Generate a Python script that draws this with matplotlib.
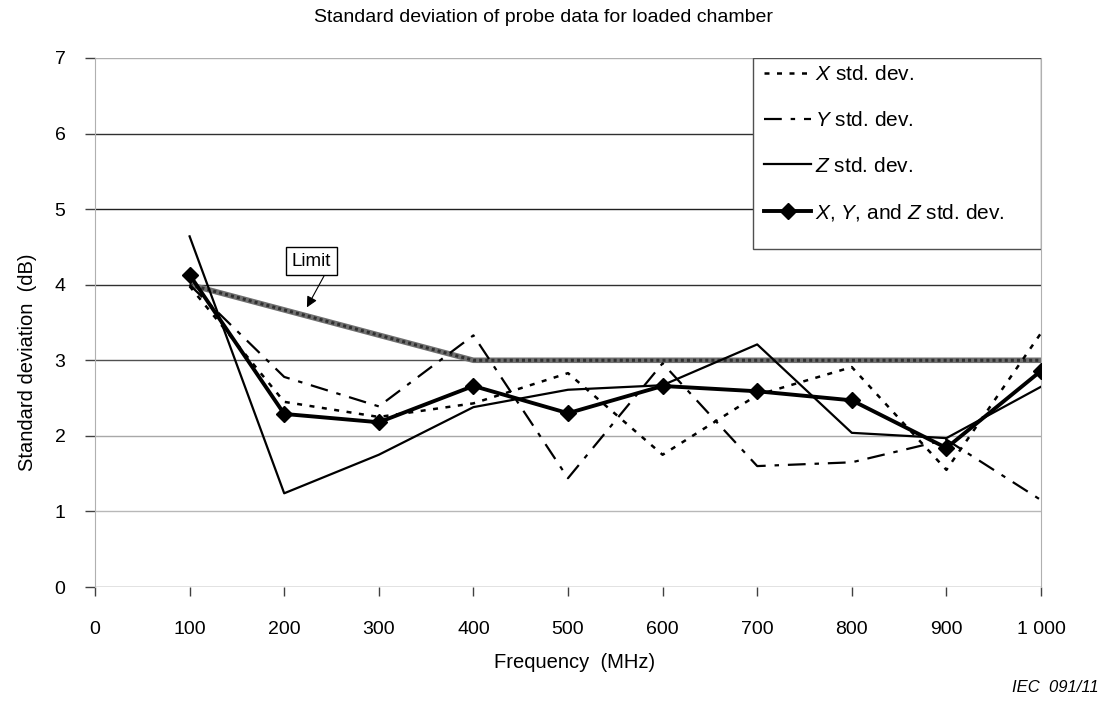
import matplotlib
matplotlib.use("Agg")
import matplotlib.pyplot as plt
from matplotlib.patches import Rectangle

plt.rcParams['font.family'] = ['Liberation Sans', 'DejaVu Sans']
plt.rcParams['mathtext.fontset'] = 'custom'
plt.rcParams['mathtext.rm'] = 'Liberation Sans'
plt.rcParams['mathtext.it'] = 'Liberation Sans:italic'

# ---- data ----
freq = [100, 200, 300, 400, 500, 600, 700, 800, 900, 1000]
x_std = [3.98, 2.45, 2.25, 2.43, 2.83, 1.75, 2.54, 2.91, 1.55, 3.36]
y_std = [4.00, 2.78, 2.39, 3.33, 1.44, 2.96, 1.60, 1.65, 1.95, 1.15]
z_std = [4.64, 1.24, 1.75, 2.38, 2.61, 2.67, 3.21, 2.04, 1.97, 2.65]
xyz_std = [4.13, 2.29, 2.18, 2.66, 2.30, 2.66, 2.59, 2.47, 1.84, 2.86]
limit_freq = [100, 400, 1000]
limit_val = [4.0, 3.0, 3.0]

x_ticks = [0, 100, 200, 300, 400, 500, 600, 700, 800, 900, 1000]
x_ticklabels = ["0", "100", "200", "300", "400", "500", "600", "700", "800", "900", "1 000"]
y_ticks = [0, 1, 2, 3, 4, 5, 6, 7]
grid_colors = ['#707070', '#b8b8b8', '#a8a8a8', '#505050', '#303030', '#202020', '#303030', '#b0b0b0']

fig = plt.figure(figsize=(11.07, 7.06), dpi=100)
ax = fig.add_axes([95/1107, 1-587/706, (1041-95)/1107, (587-58)/706])

ax.set_xlim(0, 1000)
ax.set_ylim(0, 7)

# gridlines with scanned-look varying grey
for yv, c in zip(y_ticks, grid_colors):
    ax.axhline(yv, color=c, lw=1.0, zorder=1)

# limit line (thick textured grey)
ax.plot(limit_freq, limit_val, color='#707070', lw=4.0, solid_capstyle='butt', zorder=2)
ax.plot(limit_freq, limit_val, color='#303030', lw=2.2, linestyle=(0, (1, 1)), zorder=2)

lx, = ax.plot(freq, x_std, color='black', lw=1.8, linestyle=(0, (2, 3)), zorder=3)
ly, = ax.plot(freq, y_std, color='black', lw=1.6, linestyle=(0, (8, 4, 2, 4)), zorder=3)
lz, = ax.plot(freq, z_std, color='black', lw=1.6, zorder=3)
lxyz, = ax.plot(freq, xyz_std, color='black', lw=2.8, marker='D', markersize=8, zorder=4)

# spines
for s in ['top', 'bottom']:
    ax.spines[s].set_visible(False)
ax.spines['left'].set_color('#b0b0b0')
ax.spines['right'].set_color('#b0b0b0')
ax.axvline(0, ymin=0, ymax=0.5, color='#333333', lw=1.2, zorder=2)

ax.set_xticks(x_ticks)
ax.set_xticklabels(x_ticklabels)
ax.set_yticks(y_ticks)
ax.tick_params(axis='x', length=6.5, width=1, color='#404040', pad=18, labelsize=14)
ax.tick_params(axis='y', length=7.2, width=1, color='#404040', pad=14, labelsize=14)

# Limit annotation
ax.annotate('Limit', xy=(224, 3.70), xytext=(229, 4.31), fontsize=13.5,
            ha='center', va='center',
            bbox=dict(boxstyle='square,pad=0.3', fc='white', ec='black', lw=1),
            arrowprops=dict(arrowstyle='-|>', color='black', lw=0.8, mutation_scale=16,
                            relpos=(0.9, 0.0), shrinkA=0, shrinkB=0),
            zorder=6)

# legend frame
ax.add_patch(Rectangle((0.6956, 0.639), 0.3044, 0.361, transform=ax.transAxes,
                       fc='white', ec='#505050', lw=1.0, zorder=5))
leg = ax.legend([lx, ly, lz, lxyz],
                [r'$\mathit{X}$ std. dev.', r'$\mathit{Y}$ std. dev.', r'$\mathit{Z}$ std. dev.',
                 r'$\mathit{X}$, $\mathit{Y}$, and $\mathit{Z}$ std. dev.'],
                loc='upper left', bbox_to_anchor=(0.699, 1.0), frameon=False,
                fontsize=15, handlelength=2.3, handletextpad=0.15, labelspacing=1.28,
                borderaxespad=0, borderpad=0.35)
leg.set_zorder(7)

fig.text(543/1107, 1-18/706, 'Standard deviation of probe data for loaded chamber',
         ha='center', va='center', fontsize=14)
fig.text(28/1107, 1-362/706, 'Standard deviation  (dB)', rotation=90,
         ha='center', va='center', fontsize=14.5)
fig.text(575/1107, 1-663/706, 'Frequency  (MHz)', ha='center', va='center', fontsize=14.5)
fig.text(1099/1107, 1-688/706, 'IEC  091/11', ha='right', va='center', fontsize=12, style='italic')

fig.savefig('out.png', dpi=100)
